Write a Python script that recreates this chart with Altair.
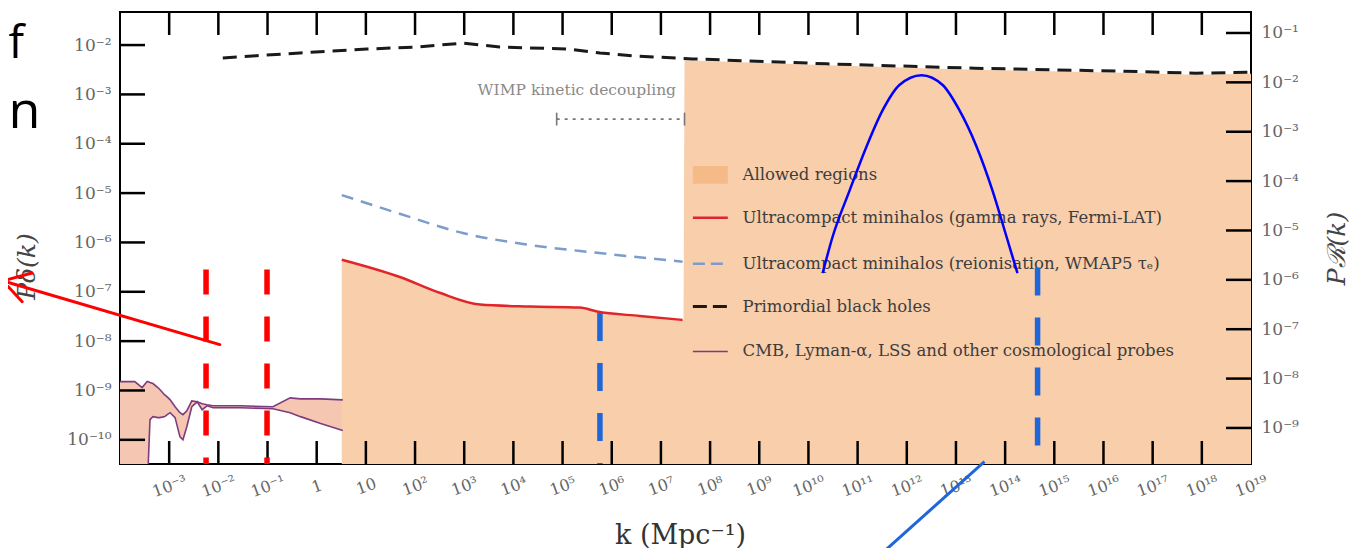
import altair as alt
import pandas as pd

SERIF = "DejaVu Serif"

# ---- axis ranges (log10) ----
XMIN, XMAX = -4.0, 19.0
YMIN, YMAX = -10.49, -1.33
RMIN, RMAX = -9.73, -0.575

# ---- CMB / Lyman-alpha / LSS band (log10 k, log10 P) ----
cmb_logk = [-4.00, -3.70, -3.55, -3.45, -3.43, -3.39, -3.33, -3.23, -3.19, -3.09, -3.04, -2.98,
            -2.88, -2.78, -2.72, -2.64, -2.54, -2.43, -2.33, -2.23, -2.11, -1.56, -0.89, -0.54,
            -0.33, 0.08, 0.53]
cmb_upper = [-8.82, -8.82, -8.94, -8.82, -8.82, -8.84, -8.86, -8.94, -8.98, -9.09, -9.13, -9.19,
             -9.33, -9.45, -9.49, -9.41, -9.21, -9.23, -9.27, -9.29, -9.31, -9.31, -9.33, -9.15,
             -9.17, -9.17, -9.19]
cmb_lower = [-12.0, -12.0, -12.0, -12.0, -10.60, -9.59, -9.53, -9.55, -9.55, -9.53, -9.49, -9.45,
             -9.55, -9.94, -10.00, -9.73, -9.33, -9.23, -9.39, -9.31, -9.35, -9.35, -9.37, -9.45,
             -9.53, -9.67, -9.81]

# ---- UCMH gamma rays (Fermi-LAT) ----
fermi_logk = [0.51, 1.69, 2.50, 3.32, 4.33, 5.35, 5.70, 6.57, 7.44]
fermi_logP = [-6.35, -6.70, -7.02, -7.26, -7.30, -7.32, -7.40, -7.49, -7.57]

# ---- UCMH reionisation (WMAP5) ----
reion_logk = [0.51, 1.63, 2.97, 4.33, 5.70, 7.44]
reion_logP = [-5.04, -5.40, -5.81, -6.05, -6.21, -6.39]

# ---- Primordial black holes ----
pbh_logk = [-1.91, -0.34, 1.02, 2.04, 2.97, 3.72, 5.09, 5.76, 6.43, 7.65, 10.37, 13.38, 16.39, 17.87, 19.0]
pbh_logP = [-2.26, -2.16, -2.08, -2.04, -1.96, -2.04, -2.08, -2.16, -2.22, -2.28, -2.38, -2.47, -2.53, -2.57, -2.55]

# ---- Allowed region (upper boundary) ----
allowed_logk = [0.51, 1.69, 2.50, 3.32, 4.33, 5.35, 5.70, 6.57, 7.46, 7.48, 10.37, 13.38, 16.39, 17.87, 19.0]
allowed_top = [-6.35, -6.70, -7.02, -7.26, -7.30, -7.32, -7.40, -7.49, -7.57, -2.31, -2.41, -2.50, -2.56, -2.60, -2.58]

# ---- WIMP kinetic decoupling marker ----
wimp_logk = [4.88, 7.48]
wimp_logP = -3.50
wimp_text_logk, wimp_text_logP = 5.29, -2.91

# ---- overlay annotations ----
parab_logk = [10.29, 10.49, 10.84, 11.18, 11.51, 11.85, 12.30, 12.73, 13.07, 13.42, 13.74, 14.03, 14.25]
parab_logP = [-6.62, -5.89, -4.94, -4.06, -3.32, -2.81, -2.61, -2.81, -3.32, -4.06, -4.94, -5.89, -6.62]
red_vlines_logk = [-2.25, -1.01]
red_vlines_top = [-6.55, -6.55]
blue_vlines_logk = [5.76, 14.66]
blue_vlines_top = [-7.43, -6.51]
arrow_x1 = [-1.97, -6.38, -6.38]
arrow_y1 = [-8.07, -6.78, -6.78]
arrow_x2 = [-6.38, -5.79, -5.99]
arrow_y2 = [-6.78, -6.62, -7.20]
diag_x1, diag_y1, diag_x2, diag_y2 = [13.58], [-10.44], [11.45], [-12.34]
slide_text = ["f", "n"]
slide_text_logk = [-6.27, -6.27]
slide_text_logP = [-2.26, -3.68]
slide_text_size = [46, 52]

# ---- legend ----
legend_labels = ["Allowed regions",
                 "Ultracompact minihalos (gamma rays, Fermi-LAT)",
                 "Ultracompact minihalos (reionisation, WMAP5 τₑ)",
                 "Primordial black holes",
                 "CMB, Lyman-α, LSS and other cosmological probes"]
legend_logP = [-4.63, -5.50, -6.43, -7.30, -8.21]
legend_sym_logk = [7.65, 8.36]
legend_text_logk = 8.66

# ---- ticks ----
xtick_exp = list(range(-3, 20))
ytick_exp = list(range(-10, -1))
rtick_exp = list(range(-9, 0))

SUP = str.maketrans("-0123456789", "⁻⁰¹²³⁴⁵⁶⁷⁸⁹")


def pow_label(e):
    if e == 0:
        return "1"
    if e == 1:
        return "10"
    return "10" + str(e).translate(SUP)


x_labels = [pow_label(e) for e in range(-4, 20)]
y_labels = [pow_label(e) for e in range(-12, 1)]
x_label_expr = "[" + ",".join("'" + s + "'" for s in x_labels) + "][round(log(datum.value)/LN10)+4]"
y_label_expr = "[" + ",".join("'" + s + "'" for s in y_labels) + "][round(log(datum.value)/LN10)+12]"

W, H = 1131, 452

xs = alt.Scale(type="log", domain=[10 ** XMIN, 10 ** XMAX], nice=False)
ys = alt.Scale(type="log", domain=[10 ** YMIN, 10 ** YMAX], nice=False)
rs = alt.Scale(type="log", domain=[10 ** RMIN, 10 ** RMAX], nice=False)

x_axis = alt.Axis(values=[10.0 ** e for e in xtick_exp], labelExpr=x_label_expr, ticks=False, domain=False,
                  grid=False, title="k (Mpc⁻¹)", labelFlush=False, labelOverlap=False, labelAngle=340,
                  labelAlign="center", labelBaseline="middle", labelPadding=22, labelFont=SERIF,
                  labelFontSize=16, labelColor="#666666", titleFont=SERIF, titleFontSize=27,
                  titleColor="#333333", titleFontWeight="normal", titleX=560, titleY=71,
                  titleAlign="center", titleBaseline="middle")
y_axis = alt.Axis(values=[10.0 ** e for e in ytick_exp], labelExpr=y_label_expr, ticks=False, domain=False,
                  grid=False, title="Pδ(k)", labelOverlap=False, labelFlush=False, labelPadding=9,
                  labelFont=SERIF, labelFontSize=17, labelColor="#666666", orient="left",
                  titleFont=SERIF, titleFontSize=25, titleFontStyle="italic", titleColor="#444444",
                  titleFontWeight="normal", titleAngle=270, titleX=-94, titleY=254,
                  titleAlign="center", titleBaseline="middle")
r_axis = alt.Axis(values=[10.0 ** e for e in rtick_exp], labelExpr=y_label_expr, ticks=False, domain=False,
                  grid=False, title="Pℛ(k)", labelOverlap=False, labelFlush=False, labelPadding=10,
                  labelFont=SERIF, labelFontSize=17, labelColor="#666666", orient="right",
                  titleFont=SERIF, titleFontSize=25, titleFontStyle="italic", titleColor="#444444",
                  titleFontWeight="normal", titleAngle=270, titleX=85, titleY=236,
                  titleAlign="center", titleBaseline="middle")


def X(f="k"):
    return alt.X(f, type="quantitative", scale=xs, axis=x_axis)


def Y(f="P"):
    return alt.Y(f, type="quantitative", scale=ys, axis=y_axis)


def tbl(logk, logP):
    return pd.DataFrame({"k": [10.0 ** v for v in logk], "P": [10.0 ** v for v in logP]})


ORANGE = "#F8CEAB"
BAND = "#F5C6B2"
PURPLE = "#7D3C7D"

# band
band_df = pd.DataFrame({"k": [10.0 ** v for v in cmb_logk],
                        "P": [10.0 ** v for v in cmb_upper],
                        "P2": [10.0 ** v for v in cmb_lower]})
band_area = alt.Chart(band_df).mark_area(color=BAND, clip=True, opacity=1).encode(
    x=X(), y=Y(), y2="P2")
band_up = alt.Chart(band_df).mark_line(color=PURPLE, strokeWidth=1.6).encode(x=X(), y=Y())
low_df = tbl([k for k, l in zip(cmb_logk, cmb_lower) if l > -11],
             [l for l in cmb_lower if l > -11])
band_low = alt.Chart(low_df).mark_line(color=PURPLE, strokeWidth=1.6, clip=True).encode(x=X(), y=Y())

# allowed region
allowed_df = tbl(allowed_logk, allowed_top)
allowed_df["P2"] = 10.0 ** (YMIN - 1)
allowed = alt.Chart(allowed_df).mark_area(color=ORANGE, clip=True, opacity=1).encode(
    x=X(), y=Y(), y2="P2")

fermi = alt.Chart(tbl(fermi_logk, fermi_logP)).mark_line(
    color="#E0262A", strokeWidth=2.5, interpolate="monotone").encode(x=X(), y=Y())
reion = alt.Chart(tbl(reion_logk, reion_logP)).mark_line(
    color="#7C9DCC", strokeWidth=2.5, strokeDash=[12, 8], interpolate="monotone").encode(x=X(), y=Y())
pbh = alt.Chart(tbl(pbh_logk, pbh_logP)).mark_line(
    color="#1a1a1a", strokeWidth=3, strokeDash=[14, 8]).encode(x=X(), y=Y())

# WIMP kinetic decoupling
wimp_df = pd.DataFrame({"k": [10.0 ** wimp_logk[0]], "k2": [10.0 ** wimp_logk[1]], "P": [10.0 ** wimp_logP]})
wimp_line = alt.Chart(wimp_df).mark_rule(color="#777777", strokeWidth=1.6, strokeDash=[3, 5]).encode(
    x=X(), x2="k2", y=Y())
caps_df = pd.DataFrame({"k": [10.0 ** v for v in wimp_logk],
                        "P": [10.0 ** (wimp_logP + 0.13)] * 2, "P2": [10.0 ** (wimp_logP - 0.13)] * 2})
wimp_caps = alt.Chart(caps_df).mark_rule(color="#777777", strokeWidth=1.6).encode(x=X(), y=Y(), y2="P2")
wimp_text = alt.Chart(pd.DataFrame({"k": [10.0 ** wimp_text_logk], "P": [10.0 ** wimp_text_logP],
                                    "t": ["WIMP kinetic decoupling"]})).mark_text(
    font=SERIF, fontSize=15.5, color="#8a8a8a", align="center", baseline="middle").encode(
    x=X(), y=Y(), text="t:N")

# legend
sw_df = pd.DataFrame({"k": [10.0 ** legend_sym_logk[0]], "k2": [10.0 ** legend_sym_logk[1]],
                      "P": [10.0 ** (legend_logP[0] + 0.18)], "P2": [10.0 ** (legend_logP[0] - 0.18)]})
leg_swatch = alt.Chart(sw_df).mark_rect(color="#F4BA88").encode(x=X(), x2="k2", y=Y(), y2="P2")
leg_styles = [("#E0262A", [1, 0], 2.5), ("#7C9DCC", [12, 6], 2.5), ("#1a1a1a", [14, 6], 3),
              (PURPLE, [1, 0], 1.6)]
leg_lines = []
for (col, dash, sw), lp in zip(leg_styles, legend_logP[1:]):
    d = pd.DataFrame({"k": [10.0 ** legend_sym_logk[0]], "k2": [10.0 ** legend_sym_logk[1]], "P": [10.0 ** lp]})
    leg_lines.append(alt.Chart(d).mark_rule(color=col, strokeWidth=sw, strokeDash=dash).encode(
        x=X(), x2="k2", y=Y()))
leg_text = alt.Chart(pd.DataFrame({"k": [10.0 ** legend_text_logk] * 5,
                                   "P": [10.0 ** v for v in legend_logP], "t": legend_labels})).mark_text(
    font=SERIF, fontSize=16.5, color="#3d3d3d", align="left", baseline="middle").encode(
    x=X(), y=Y(), text="t:N")

# inward ticks
xt_df = pd.DataFrame({"k": [10.0 ** e for e in range(-3, 19)]})
top_ticks = alt.Chart(xt_df).mark_rule(color="black", strokeWidth=2.5).encode(
    x=X(), y=alt.value(0), y2=alt.value(23))
bot_ticks = alt.Chart(xt_df).mark_rule(color="black", strokeWidth=2.5).encode(
    x=X(), y=alt.value(H - 23), y2=alt.value(H))
yt_df = pd.DataFrame({"P": [10.0 ** e for e in ytick_exp]})
left_ticks = alt.Chart(yt_df).mark_rule(color="black", strokeWidth=2.5).encode(
    y=Y(), x=alt.value(0), x2=alt.value(25))

# overlays
par = alt.Chart(tbl(parab_logk, parab_logP)).mark_line(
    color="#0000FF", strokeWidth=2.5, interpolate="monotone").encode(x=X(), y=Y())
rv_df = pd.DataFrame({"k": [10.0 ** v for v in red_vlines_logk], "P": [10.0 ** v for v in red_vlines_top],
                      "P2": [10.0 ** YMIN] * 2})
red_v = alt.Chart(rv_df).mark_rule(color="#FF0000", strokeWidth=5.5, strokeDash=[25, 22]).encode(
    x=X(), y=Y(), y2="P2")
bv_df = pd.DataFrame({"k": [10.0 ** v for v in blue_vlines_logk], "P": [10.0 ** v for v in blue_vlines_top],
                      "P2": [10.0 ** YMIN] * 2})
blue_v = alt.Chart(bv_df).mark_rule(color="#1F66D9", strokeWidth=5.5, strokeDash=[28, 22]).encode(
    x=X(), y=Y(), y2="P2")
arr_df = pd.DataFrame({"k": [10.0 ** v for v in arrow_x1], "P": [10.0 ** v for v in arrow_y1],
                       "k2": [10.0 ** v for v in arrow_x2], "P2": [10.0 ** v for v in arrow_y2]})
arrow = alt.Chart(arr_df).mark_rule(color="#FF0000", strokeWidth=3, strokeCap="round").encode(
    x=X(), y=Y(), x2="k2", y2="P2")
dg_df = pd.DataFrame({"k": [10.0 ** v for v in diag_x1], "P": [10.0 ** v for v in diag_y1],
                      "k2": [10.0 ** v for v in diag_x2], "P2": [10.0 ** v for v in diag_y2]})
diag = alt.Chart(dg_df).mark_rule(color="#1F66D9", strokeWidth=3).encode(
    x=X(), y=Y(), x2="k2", y2="P2")
st_df = pd.DataFrame({"k": [10.0 ** v for v in slide_text_logk], "P": [10.0 ** v for v in slide_text_logP],
                      "t": slide_text, "s": slide_text_size})
slide = alt.Chart(st_df).mark_text(font="Open Sans", color="black", align="left", baseline="alphabetic").encode(
    x=X(), y=Y(), text="t:N", size=alt.Size("s:Q", scale=None))

main = alt.layer(band_area, allowed, band_up, band_low, fermi, reion, pbh, wimp_line, wimp_caps, wimp_text,
                 leg_swatch, *leg_lines, leg_text, top_ticks, bot_ticks, left_ticks,
                 par, red_v, blue_v, arrow, diag, slide)

rt_df = pd.DataFrame({"P": [10.0 ** e for e in rtick_exp]})
right = alt.Chart(rt_df).mark_rule(color="black", strokeWidth=2.5).encode(
    y=alt.Y("P", type="quantitative", scale=rs, axis=r_axis), x=alt.value(W - 25), x2=alt.value(W))

chart = alt.layer(main, right).resolve_scale(y="independent").properties(
    width=W, height=H, padding={"left": 112, "top": 4, "right": 98, "bottom": 84},
    autosize=alt.AutoSizeParams(type="none"), background="white"
).configure_view(stroke="black", strokeWidth=2)

chart.save("out.html", embed_options={"renderer": "svg", "actions": False})
